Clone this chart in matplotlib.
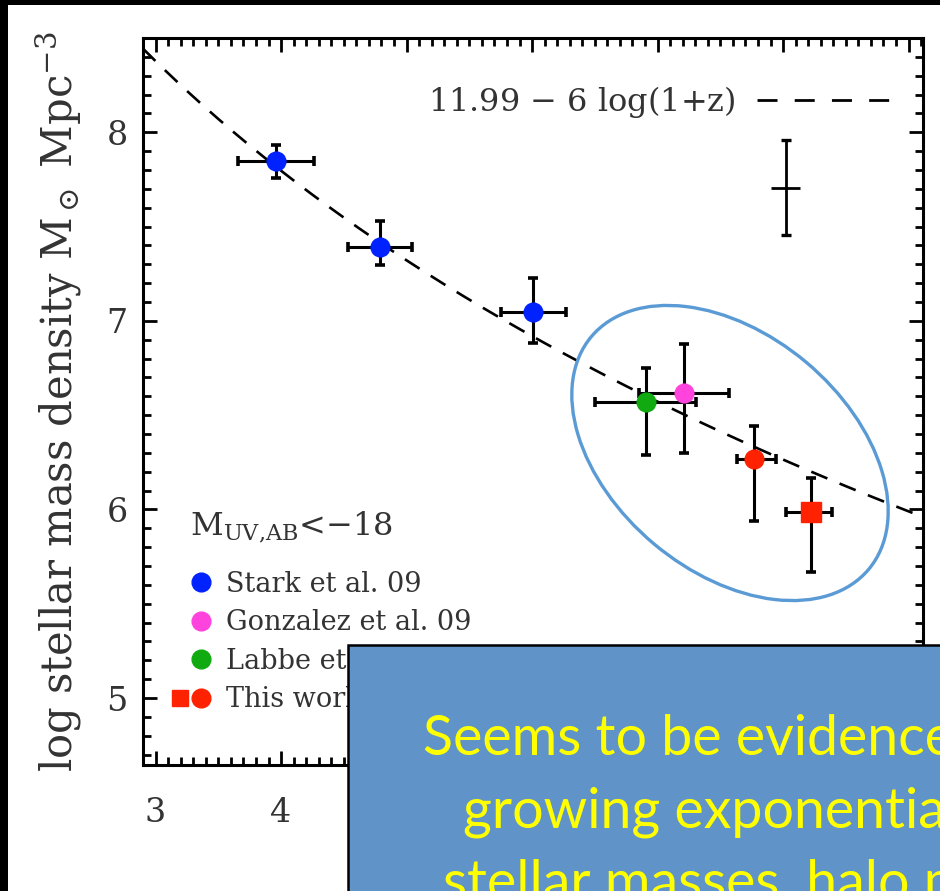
import numpy as np
import matplotlib
matplotlib.use("Agg")
import matplotlib.pyplot as plt
from matplotlib.lines import Line2D
from matplotlib.legend_handler import HandlerTuple
from matplotlib.patches import Ellipse, Rectangle

# ---------------- data ----------------
stark_z = [3.96, 4.79, 6.01]
stark_m = [7.85, 7.39, 7.045]
stark_zerr = [0.30, 0.255, 0.26]
stark_m_lo = [0.095, 0.096, 0.16]
stark_m_hi = [0.08, 0.138, 0.18]

gonz_z = [7.21]
gonz_m = [6.615]
gonz_zerr = [0.36]
gonz_m_lo = [0.315]
gonz_m_hi = [0.265]

labbe_z = [6.905]
labbe_m = [6.568]
labbe_zerr = [0.40]
labbe_m_lo = [0.28]
labbe_m_hi = [0.18]

thiscirc_z = [7.767]
thiscirc_m = [6.265]
thiscirc_z_lo = [0.135]
thiscirc_z_hi = [0.175]
thiscirc_m_lo = [0.325]
thiscirc_m_hi = [0.175]

thissq_z = [8.222]
thissq_m = [5.984]
thissq_z_lo = [0.20]
thissq_z_hi = [0.167]
thissq_m_lo = [0.318]
thissq_m_hi = [0.185]

typ_z = [8.022]
typ_m = [7.703]
typ_zerr = [0.116]
typ_m_lo = [0.25]
typ_m_hi = [0.255]

fit_intercept = 11.99
fit_slope = 6.0

x_ticks = [3, 4, 5, 6, 7, 8, 9]
x_tick_labels = ["3", "4", "", "", "", "", ""]   # 5..9 are hidden under the text box
y_ticks = [5, 6, 7, 8]

legend_labels = ["Stark et al. 09", "Gonzalez et al. 09", "Labbe et al. 10", "This work"]
fit_label = r"11.99 $-$ 6 log(1+z)"

box_lines = ["Seems to be evidence for", "growing exponentially", "stellar masses, halo masses"]

# ---------------- figure ----------------
W, H = 940, 891
fig = plt.figure(figsize=(W / 100, H / 100), dpi=100)
fig.patch.set_facecolor("white")
plt.rcParams["mathtext.fontset"] = "dejavuserif"
serif = ["DejaVu Serif"]
txtcol = "#333333"

ax = fig.add_axes([143 / W, 1 - 765 / H, (923 - 143) / W, (765 - 38) / H])
ax.set_xlim(2.9, 9.115)
ax.set_ylim(4.645, 8.5)

# fit line: 11.99 - 6 log(1+z), as labelled on the chart
zline = np.linspace(2.9, 9.115, 200)
fit_line, = ax.plot(zline, fit_intercept - fit_slope * np.log10(1 + zline),
                    color="black", lw=1.9, zorder=1, linestyle=(0, (6.6, 5.0)))

ekw = dict(ecolor="black", elinewidth=2.2, capsize=3.8, capthick=2.6, linestyle="none", zorder=3)

ax.errorbar(stark_z, stark_m, xerr=stark_zerr, yerr=[stark_m_lo, stark_m_hi],
            fmt="o", ms=13.5, mfc="#0022ff", mec="#0022ff", **ekw)
ax.errorbar(labbe_z, labbe_m, xerr=labbe_zerr, yerr=[labbe_m_lo, labbe_m_hi],
            fmt="o", ms=13.5, mfc="#11aa11", mec="#11aa11", **ekw)
ax.errorbar(gonz_z, gonz_m, xerr=gonz_zerr, yerr=[gonz_m_lo, gonz_m_hi],
            fmt="o", ms=13.5, mfc="#ff44dd", mec="#ff44dd", **ekw)
ax.errorbar(thiscirc_z, thiscirc_m, xerr=[thiscirc_z_lo, thiscirc_z_hi],
            yerr=[thiscirc_m_lo, thiscirc_m_hi],
            fmt="o", ms=13.5, mfc="#ff2200", mec="#ff2200", **ekw)
ax.errorbar(thissq_z, thissq_m, xerr=[thissq_z_lo, thissq_z_hi],
            yerr=[thissq_m_lo, thissq_m_hi],
            fmt="s", ms=15, mfc="#ff2200", mec="#ff2200", **ekw)
# typical error cross
ax.errorbar(typ_z, typ_m, yerr=[typ_m_lo, typ_m_hi], fmt="none",
            ecolor="black", elinewidth=2.0, capsize=3.8, capthick=2.4, zorder=3)
ax.errorbar(typ_z, typ_m, xerr=typ_zerr, fmt="none",
            ecolor="black", elinewidth=2.0, capsize=0, zorder=3)

# axes styling
for s in ax.spines.values():
    s.set_linewidth(2.2)
ax.set_xticks(x_ticks)
ax.set_xticklabels(x_tick_labels)
ax.set_yticks(y_ticks)
ax.set_xticks(np.arange(2.9, 9.12, 0.1), minor=True)
ax.set_yticks(np.arange(4.7, 8.5, 0.1), minor=True)
ax.tick_params(which="both", direction="in", top=True, right=True, width=2.0, color="black")
ax.tick_params(which="major", length=10)
ax.tick_params(which="minor", length=5.5)
ax.tick_params(axis="x", which="major", pad=23, labelsize=24, labelcolor=txtcol)
ax.tick_params(axis="y", which="major", pad=11, labelsize=24, labelcolor=txtcol)
for lab in ax.get_xticklabels() + ax.get_yticklabels():
    lab.set_family(serif)

ax.set_ylabel(r"log stellar mass density M$_\odot$ Mpc$^{-3}$", fontsize=30,
              family=serif, color=txtcol)
ax.yaxis.set_label_coords(-0.076, 0.5)

# legend for fit line (upper right)
fit_handle = Line2D([], [], color="black", lw=2.0, linestyle=(0, (7.2, 6.2)))
leg1 = ax.legend([fit_handle], [fit_label], loc="upper right",
                 bbox_to_anchor=((891 - 143) / 780, 1 - 46 / 727),
                 frameon=False, markerfirst=False, handlelength=4.2, handletextpad=0.65,
                 borderpad=0, borderaxespad=0,
                 prop={"family": serif, "size": 23})
for t in leg1.get_texts():
    t.set_color(txtcol)
ax.add_artist(leg1)

# legend for data (lower left)
blank = Line2D([], [], linestyle="none", marker="None")
h_stark = Line2D([], [], linestyle="none", marker="o", ms=13.5, mfc="#0022ff", mec="#0022ff")
h_gonz = Line2D([], [], linestyle="none", marker="o", ms=13.5, mfc="#ff44dd", mec="#ff44dd")
h_labbe = Line2D([], [], linestyle="none", marker="o", ms=13.5, mfc="#11aa11", mec="#11aa11")
h_sq = Line2D([], [], linestyle="none", marker="s", ms=12, mfc="#ff2200", mec="#ff2200")
h_ci = Line2D([], [], linestyle="none", marker="o", ms=13.5, mfc="#ff2200", mec="#ff2200")
leg2 = ax.legend([(blank, h_stark), (blank, h_gonz), (blank, h_labbe), (h_sq, h_ci)],
                 legend_labels, handler_map={tuple: HandlerTuple(ndivide=2, pad=0)},
                 loc="lower left", bbox_to_anchor=((170 - 143) / 780, 52 / 727),
                 frameon=False, handlelength=1.55, handletextpad=0.5, labelspacing=0.42,
                 borderpad=0, borderaxespad=0, prop={"family": serif, "size": 19.5})
for t in leg2.get_texts():
    t.set_color(txtcol)

ax.text((190 - 143) / 780, (765 - 535) / 727, r"M$_{\mathrm{UV{,}AB}}$<$-$18", transform=ax.transAxes,
        fontsize=23, family=serif, color=txtcol, ha="left", va="baseline")

# ---------------- slide overlay (ellipse, text box, black frame) ----------------
ov = fig.add_axes([0, 0, 1, 1])
ov.set_zorder(10)
ov.set_xlim(0, W)
ov.set_ylim(H, 0)
ov.axis("off")
ov.patch.set_alpha(0)

ov.add_patch(Ellipse((730, 453), 362, 237, angle=40, facecolor="none",
                     edgecolor="#5b9bd5", lw=2.4))
ov.add_patch(Rectangle((348, 645), 600, 260, facecolor="#6094c8", edgecolor="black", lw=1.8))
ov.add_patch(Rectangle((0, 0), 8, H, facecolor="black", edgecolor="none"))
ov.add_patch(Rectangle((0, 0), W, 5, facecolor="black", edgecolor="none"))

for txt, x0, yb in zip(box_lines, [423, 463, 443], [755, 827, 899]):
    ov.text(x0, yb, txt, fontsize=40, family=["Lato", "DejaVu Sans"], color="#ffff00",
            ha="left", va="baseline", clip_on=True)

fig.savefig("out.png", dpi=100)
